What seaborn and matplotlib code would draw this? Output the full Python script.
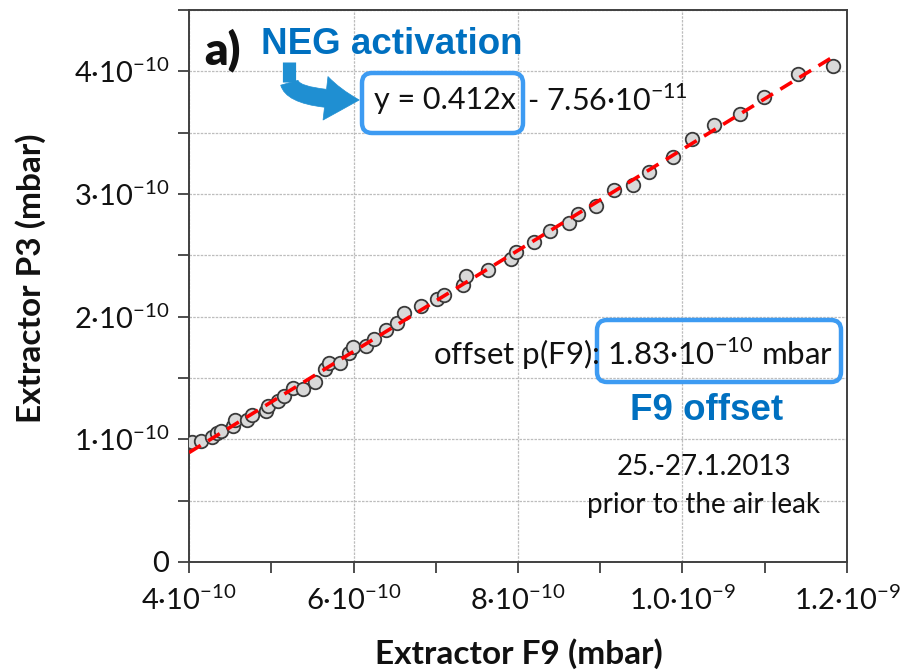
import numpy as np
import pandas as pd
import matplotlib
matplotlib.use('Agg')
import matplotlib.pyplot as plt
import matplotlib.ticker as mticker
from matplotlib.patches import FancyBboxPatch, FancyArrowPatch
from matplotlib.lines import Line2D
from matplotlib.transforms import IdentityTransform
import seaborn as sns

# Extractor readings in units of 1e-10 mbar
f9_e10 = [4.04, 4.15, 4.28, 4.34, 4.39, 4.53, 4.56, 4.70, 4.76, 4.94,
          4.96, 5.08, 5.16, 5.26, 5.38, 5.53, 5.65, 5.70, 5.84, 5.95,
          5.99, 6.15, 6.25, 6.40, 6.53, 6.61, 6.82, 7.01, 7.10, 7.33,
          7.37, 7.64, 7.92, 7.98, 8.19, 8.39, 8.62, 8.73, 8.95, 9.17,
          9.40, 9.59, 9.88, 10.11, 10.38, 10.70, 10.99, 11.40, 11.83]
p3_e10 = [0.98, 0.99, 1.02, 1.05, 1.07, 1.11, 1.16, 1.16, 1.20, 1.23,
          1.27, 1.31, 1.35, 1.42, 1.41, 1.47, 1.57, 1.62, 1.62, 1.70,
          1.75, 1.76, 1.82, 1.89, 1.95, 2.03, 2.09, 2.14, 2.18, 2.26,
          2.33, 2.38, 2.47, 2.53, 2.61, 2.70, 2.76, 2.84, 2.90, 3.03,
          3.07, 3.18, 3.30, 3.45, 3.56, 3.65, 3.79, 3.98, 4.04]

fit_slope = 0.412
fit_offset = -7.56e-11

x_ticks = [4e-10, 6e-10, 8e-10, 1.0e-9, 1.2e-9]
x_tick_labels = ['4·10^{-10}', '6·10^{-10}', '8·10^{-10}', '1.0·10^{-9}', '1.2·10^{-9}']
y_ticks = [0, 1e-10, 2e-10, 3e-10, 4e-10]
y_tick_labels = ['0', '1·10^{-10}', '2·10^{-10}', '3·10^{-10}', '4·10^{-10}']

df = pd.DataFrame({'F9': np.array(f9_e10) * 1e-10, 'P3': np.array(p3_e10) * 1e-10})

sns.set_theme(style="white")
plt.rcParams['font.family'] = ['Lato', 'DejaVu Sans']

W, H = 904, 671
fig = plt.figure(figsize=(W / 100, H / 100), dpi=100)
ax = fig.add_axes([189 / W, 1 - 562 / H, 658 / W, 552 / H])

x_lim = (4e-10, 1.2e-9)
x_fit = np.array([x_lim[0], df['F9'].max()])
y_fit = fit_slope * x_fit + fit_offset

sns.scatterplot(data=df, x='F9', y='P3', ax=ax, s=95, color='#d9d9d9',
                edgecolor='#3a3a3a', linewidth=1.3, zorder=3)
sns.lineplot(x=x_fit, y=y_fit, ax=ax, color='#ff0000', linewidth=2.6,
             linestyle=(0, (3.8, 2.4)), zorder=4)

ax.set_xlim(*x_lim)
ax.set_ylim(0, 4.5e-10)
ax.set_xticks(x_ticks, [r'$\mathregular{%s}$' % t for t in x_tick_labels])
ax.set_yticks(y_ticks, [r'$\mathregular{%s}$' % t for t in y_tick_labels])
ax.xaxis.set_minor_locator(mticker.MultipleLocator(1e-10))
ax.yaxis.set_minor_locator(mticker.MultipleLocator(0.5e-10))
ax.tick_params(which='both', direction='out', length=8, width=1.3, color='#404040',
               left=True, bottom=True, top=False, right=False)
ax.tick_params(axis='x', which='major', labelsize=21, pad=9, labelcolor='#111111')
ax.tick_params(axis='y', which='major', labelsize=21, pad=6, labelcolor='#111111')
ax.grid(False)
grid_kw = dict(color='#bdbdbd', linestyle=(0, (2, 1)), linewidth=0.9)
ax.yaxis.grid(True, which='both', **grid_kw)
ax.xaxis.grid(True, which='major', **grid_kw)
ax.set_axisbelow(True)
for s in ax.spines.values():
    s.set_visible(True)
    s.set_color('#404040')
    s.set_linewidth(1.4)

ax.set_xlabel('Extractor F9 (mbar)', fontsize=24, fontweight='bold', color='#111111')
ax.set_ylabel('Extractor P3 (mbar)', fontsize=24, fontweight='bold', color='#111111')
ax.xaxis.set_label_coords((519 - 189) / 658, (562 - 638) / 552)
ax.yaxis.set_label_coords((46 - 189) / 658, (562 - 278) / 552)


def fx(px):
    return px / W


def fy(py):
    return 1 - py / H


blue = '#0070c0'
box_blue = '#3d9bf2'

fig.text(fx(223), fy(50), 'a)', fontsize=33, fontweight='heavy', color='#111111',
         ha='center', va='center')
fig.text(fx(392), fy(44), 'NEG activation', fontsize=26.5, fontweight='bold', color=blue,
         family=['Liberation Sans'], ha='center', va='center')

fig.text(fx(374), fy(100), 'y = 0.412x', fontsize=22, color='#111111', ha='left', va='center')
fig.text(fx(527), fy(100), r'- 7.56·10$^{\mathregular{-11}}$', fontsize=22, color='#111111',
         ha='left', va='center')

fig.text(fx(833), fy(354), r'offset p(F9): 1.83·10$^{\mathregular{-10}}$ mbar', fontsize=22.5,
         color='#111111', ha='right', va='center')
fig.text(fx(707), fy(411), 'F9 offset', fontsize=26.5, fontweight='bold', color=blue,
         family=['Liberation Sans'], ha='center', va='center')
fig.text(fx(704), fy(467), '25.-27.1.2013', fontsize=20, color='#111111', ha='center', va='center')
fig.text(fx(704), fy(505), 'prior to the air leak', fontsize=20, color='#111111',
         ha='center', va='center')

# rounded highlight boxes (pixel coordinates)
for (x0, y0, x1, y1) in [(362, 73, 523, 133), (597, 320, 841, 382)]:
    fig.patches.append(FancyBboxPatch((x0, H - y1), x1 - x0, y1 - y0,
                                      boxstyle='round,pad=0,rounding_size=10',
                                      transform=IdentityTransform(), fill=False,
                                      edgecolor=box_blue, linewidth=3.2, figure=fig))

# bent arrow: short vertical stem, then a curve into the equation box
arrow_color = '#1f8fd2'
fig.lines.append(Line2D([289, 289], [H - 62, H - 82], transform=IdentityTransform(),
                        color=arrow_color, linewidth=9.5, solid_capstyle='butt', figure=fig))
arrow = FancyArrowPatch((289, H - 80), (362, H - 100), transform=IdentityTransform(),
                        connectionstyle='angle3,angleA=90,angleB=0',
                        arrowstyle='simple,head_width=1.75,head_length=1.35,tail_width=0.72',
                        mutation_scale=18, facecolor=arrow_color, edgecolor=arrow_color,
                        linewidth=0.5, figure=fig)
fig.patches.append(arrow)

fig.savefig('out.png', dpi=100, facecolor='white')
